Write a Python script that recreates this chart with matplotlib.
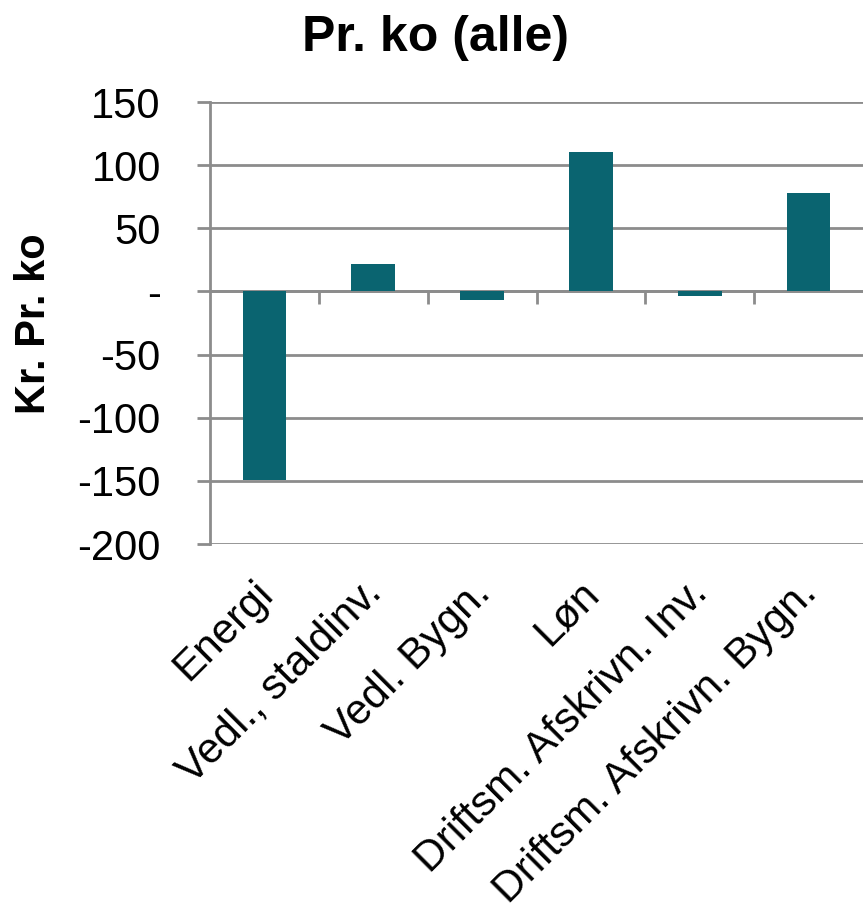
import matplotlib
matplotlib.use("Agg")
import matplotlib.pyplot as plt
import matplotlib.transforms as mtransforms
from matplotlib.ticker import FixedLocator, FixedFormatter

plt.rcParams['font.family'] = ['Liberation Sans', 'DejaVu Sans']

categories = ["Energi", "Vedl., staldinv.", "Vedl. Bygn.", "Løn",
              "Driftsm. Afskrivn. Inv.", "Driftsm. Afskrivn. Bygn."]
values = [-149, 22, -7, 110.5, -3.7, 77.6]
ytick_values = [150, 100, 50, 0, -50, -100, -150, -200]
ytick_labels = ["150", "100", "50", "-", "-50", "-100", "-150", "-200"]

bar_color = "#0a6470"
grid_color = "#8c8c8c"

fig = plt.figure(figsize=(8.63, 9.09), dpi=100)
ax = fig.add_axes([210/863, 1 - 544/909, 1 - 210/863, (544 - 102)/909])

x = list(range(len(categories)))
ax.bar(x, values, width=0.4, color=bar_color, zorder=3)

ax.set_xlim(-0.5, len(categories) - 0.5)
ax.set_ylim(-200, 150)
ax.yaxis.set_major_locator(FixedLocator(ytick_values))
ax.yaxis.set_major_formatter(FixedFormatter(ytick_labels))
ax.tick_params(axis='y', labelsize=30, length=9.4, width=2, color=grid_color, pad=26)
ax.yaxis.grid(True, color=grid_color, linewidth=2, zorder=0)
ax.set_axisbelow(True)

ax.set_xticks(x)
ax.set_xticklabels(categories, rotation=45, ha='right', rotation_mode='anchor', fontsize=30.5)
ax.tick_params(axis='x', length=0, pad=12)
offset = mtransforms.ScaledTranslation(-12/100, -12/100, fig.dpi_scale_trans)
for lbl in ax.get_xticklabels():
    lbl.set_transform(lbl.get_transform() + offset)

for s in ['top', 'right', 'bottom']:
    ax.spines[s].set_visible(False)
ax.spines['left'].set_color(grid_color)
ax.spines['left'].set_linewidth(2)

sec = ax.secondary_xaxis(0, transform=ax.transData)
sec.set_xticks([i + 0.5 for i in x[:-1]])
sec.set_xticklabels([])
sec.tick_params(axis='x', direction='out', length=9.2, width=2, color=grid_color)
sec.spines['bottom'].set_color(grid_color)
sec.spines['bottom'].set_linewidth(2)

ax.set_ylabel("Kr. Pr. ko", fontsize=30, fontweight='bold')
ax.yaxis.set_label_coords(-0.239, 0.498)
fig.text(435/863, 1 - 38/909, "Pr. ko (alle)", fontsize=36, fontweight='bold',
         ha='center', va='center')

fig.savefig("out.png", dpi=100)
